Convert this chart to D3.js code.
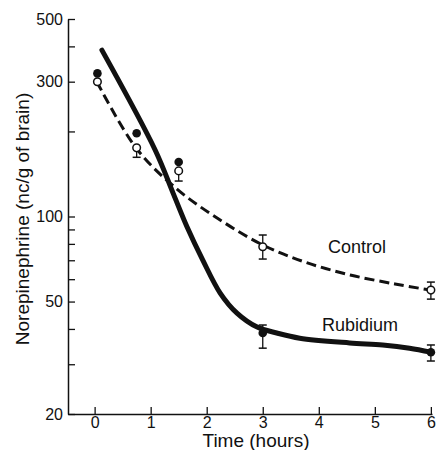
<!DOCTYPE html>
<html>
<head>
<meta charset="utf-8">
<script src="https://cdn.jsdelivr.net/npm/d3@7"></script>
<style>
  body { margin: 0; background: #fff; }
  text { font-family: "Liberation Sans", Arial, sans-serif; fill: #111; }
</style>
</head>
<body>
<svg id="chart"></svg>
<script>
var width = 439, height = 450;
var svg = d3.select("#chart").attr("width", width).attr("height", height);

// measured points (time in hours, norepinephrine nc/g)
var times = [0.05, 0.75, 1.5, 3, 6];
var rubidium = [321, 197, 156, 38.7, 33.1];
var rubidiumLo = [null, null, null, 34.2, 30.8];
var rubidiumHi = [null, null, null, 41.3, 35.1];
var control = [300, 175, 145, 78.2, 54.9];
var controlLo = [null, 162, 133.5, 70.7, 51.0];
var controlHi = [null, null, null, 86, 58.6];

// hand fitted curves
var rubCurveT = [0.13, 1.08, 1.40, 1.65, 1.93, 2.24, 2.54, 2.90, 3.25, 3.66, 4.55, 5.14, 5.62, 6.0];
var rubCurveV = [388, 172, 121, 91.8, 70.1, 53.6, 45.5, 40.6, 38.7, 37.1, 35.7, 35.1, 34.2, 33.1];
var ctlCurveT = [0.04, 0.74, 1.47, 2.24, 3.0, 3.75, 4.56, 5.36, 5.99];
var ctlCurveV = [300, 174.7, 125, 97.2, 79.3, 69, 62.1, 57.7, 54.9];

var yMajor = [500, 300, 100, 50, 20];
var yMinor = [400, 200, 90, 80, 70, 60, 40, 30];
var xTicks = [0, 1, 2, 3, 4, 5, 6];

var x = d3.scaleLinear().domain([-0.475, 6.02]).range([68, 432]);
var y = d3.scaleLog().domain([20, 500]).range([414, 19]);

// axes
var yAxis = d3.axisLeft(y)
  .tickValues(yMajor.concat(yMinor))
  .tickSizeInner(-7).tickSizeOuter(0).tickPadding(5)
  .tickFormat(function (d) { return yMajor.indexOf(d) >= 0 ? d : ""; });
var gy = svg.append("g").attr("transform", "translate(68,0)").call(yAxis);

var xAxis = d3.axisBottom(x)
  .tickValues(xTicks)
  .tickSizeInner(-7).tickSizeOuter(0).tickPadding(3)
  .tickFormat(d3.format("d"));
var gx = svg.append("g").attr("transform", "translate(0,414)").call(xAxis);

[gx, gy].forEach(function (g) {
  g.select(".domain").attr("stroke", "#111").attr("stroke-width", 1.5);
  g.selectAll(".tick line").attr("stroke", "#111").attr("stroke-width", 1.3);
  g.selectAll(".tick text").style("font-size", "16px").attr("fill", "#111");
});

svg.append("text")
  .attr("x", 256).attr("y", 447)
  .attr("text-anchor", "middle")
  .style("font-size", "19px")
  .text("Time (hours)");

svg.append("text")
  .attr("transform", "translate(29,219) rotate(-90)")
  .attr("text-anchor", "middle")
  .style("font-size", "19px")
  .text("Norepinephrine (nc/g of brain)");

// curves
var line = d3.line()
  .x(function (d) { return x(d[0]); })
  .y(function (d) { return y(d[1]); })
  .curve(d3.curveCatmullRom.alpha(0.5));

svg.append("path")
  .attr("d", line(d3.zip(ctlCurveT, ctlCurveV)))
  .attr("fill", "none")
  .attr("stroke", "#111")
  .attr("stroke-width", 3)
  .attr("stroke-dasharray", "10,5");

svg.append("path")
  .attr("d", line(d3.zip(rubCurveT, rubCurveV)))
  .attr("fill", "none")
  .attr("stroke", "#111")
  .attr("stroke-width", 5)
  .attr("stroke-linecap", "round");

// error bars
function errorBars(vals, lo, hi) {
  times.forEach(function (t, i) {
    [lo[i], hi[i]].forEach(function (e) {
      if (e == null) return;
      svg.append("line")
        .attr("x1", x(t)).attr("x2", x(t))
        .attr("y1", y(vals[i])).attr("y2", y(e))
        .attr("stroke", "#111").attr("stroke-width", 1.3);
      svg.append("line")
        .attr("x1", x(t) - 4).attr("x2", x(t) + 4)
        .attr("y1", y(e)).attr("y2", y(e))
        .attr("stroke", "#111").attr("stroke-width", 1.5);
    });
  });
}
errorBars(control, controlLo, controlHi);
errorBars(rubidium, rubidiumLo, rubidiumHi);

// points
svg.selectAll(".ctl")
  .data(d3.zip(times, control))
  .enter().append("circle")
  .attr("cx", function (d) { return x(d[0]); })
  .attr("cy", function (d) { return y(d[1]); })
  .attr("r", 3.8)
  .attr("fill", "#fff")
  .attr("stroke", "#111")
  .attr("stroke-width", 1.5);

svg.selectAll(".rub")
  .data(d3.zip(times, rubidium))
  .enter().append("circle")
  .attr("cx", function (d) { return x(d[0]); })
  .attr("cy", function (d) { return y(d[1]); })
  .attr("r", 4.3)
  .attr("fill", "#111");

// series labels
svg.append("text").attr("x", 328).attr("y", 253)
  .style("font-size", "18px").text("Control");
svg.append("text").attr("x", 322).attr("y", 331)
  .style("font-size", "18px").text("Rubidium");
</script>
</body>
</html>
